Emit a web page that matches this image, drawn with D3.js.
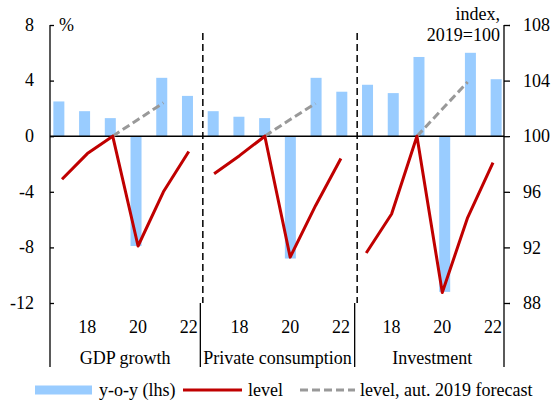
<!DOCTYPE html>
<html>
<head>
<meta charset="utf-8">
<script src="https://cdn.jsdelivr.net/npm/d3@7"></script>
<style>
  html, body { margin: 0; padding: 0; background: #fff; }
  svg { display: block; }
  text { font-family: "Liberation Serif", "Times New Roman", serif; fill: #000; }
</style>
</head>
<body>
<svg id="chart" width="553" height="401"></svg>
<script>
// --- данные ---
const groups = ['GDP growth', 'Private consumption', 'Investment'];
const years = [17, 18, 19, 20, 21, 22];
const yearLabels = ['', '18', '', '20', '', '22'];

// y-o-y, % (левая шкала)
const yoyGDP = [2.5, 1.8, 1.3, -7.9, 4.2, 2.9];
const yoyCons = [1.8, 1.4, 1.3, -8.8, 4.2, 3.2];
const yoyInv = [3.7, 3.1, 5.7, -11.2, 6.0, 4.1];

// уровень, 2019=100 (правая шкала)
const levelGDP = [96.9, 98.75, 100, 92.1, 96.0, 98.9];
const levelCons = [97.3, 98.6, 100, 91.3, 95.0, 98.4];
const levelInv = [91.6, 94.4, 100, 88.75, 94.15, 98.1];

// прогноз осени 2019 (2019–2021)
const fcYears = [19, 20, 21];
const fcGDP = [100, 101.2, 102.4];
const fcCons = [100, 101.2, 102.35];
const fcInv = [100, 101.95, 103.9];

const leftTicks = [-12, -8, -4, 0, 4, 8];
const rightTicks = [88, 92, 96, 100, 104, 108];

const yoy = [yoyGDP, yoyCons, yoyInv];
const level = [levelGDP, levelCons, levelInv];
const fc = [fcGDP, fcCons, fcInv];

const keys = [];
groups.forEach((g, gi) => years.forEach(y => keys.push(gi + '-' + y)));

const svg = d3.select('#chart');
const plotTop = 25, plotBottom = 303, axL = 50, axR = 504;

const y = d3.scaleLinear().domain([-12, 8]).range([plotBottom, plotTop]);
const yR = d3.scaleLinear().domain([88, 108]).range([plotBottom, plotTop]);
// столбцы и линия в Excel сидят на чуть разных осях
const xBar = d3.scaleBand().domain(keys).range([46, 509]);
const xLine = d3.scalePoint().domain(keys).range([62, 493]);

const BLUE = '#99ccff', RED = '#c00000', GREY = '#999999';

// столбцы
const barData = [];
groups.forEach((g, gi) => years.forEach((yr, i) => barData.push({ k: gi + '-' + yr, v: yoy[gi][i] })));
const bw = 11;
svg.append('g').selectAll('rect')
  .data(barData)
  .join('rect')
  .attr('x', d => xBar(d.k) + xBar.bandwidth() / 2 - bw / 2)
  .attr('width', bw)
  .attr('y', d => y(Math.max(0, d.v)))
  .attr('height', d => Math.abs(y(d.v) - y(0)))
  .attr('fill', BLUE);

// разделители панелей
[6, 12].forEach(i => {
  const xs = xBar(keys[i]);
  svg.append('line')
    .attr('x1', xs + 2.5).attr('x2', xs + 2.5)
    .attr('y1', 33).attr('y2', plotBottom)
    .attr('stroke', '#000').attr('stroke-width', 1.5)
    .attr('stroke-dasharray', '7,4');
  svg.append('line')
    .attr('x1', xs).attr('x2', xs)
    .attr('y1', plotBottom).attr('y2', 367)
    .attr('stroke', '#000').attr('stroke-width', 1.3);
});

// ноль
svg.append('line')
  .attr('x1', axL).attr('x2', axR)
  .attr('y1', y(0)).attr('y2', y(0))
  .attr('stroke', '#000').attr('stroke-width', 1.5);

// линии
const line = d3.line().x(d => xLine(d.k)).y(d => yR(d.v));
groups.forEach((g, gi) => {
  const fcPts = fcYears.map((yr, i) => ({ k: gi + '-' + yr, v: fc[gi][i] }));
  svg.append('path')
    .attr('d', line(fcPts))
    .attr('fill', 'none').attr('stroke', GREY)
    .attr('stroke-width', 3).attr('stroke-dasharray', '8,4');
  const pts = years.map((yr, i) => ({ k: gi + '-' + yr, v: level[gi][i] }));
  svg.append('path')
    .attr('d', line(pts))
    .attr('fill', 'none').attr('stroke', RED)
    .attr('stroke-width', 3).attr('stroke-linejoin', 'round');
});

// оси
const gl = svg.append('g').attr('transform', `translate(${axL},0)`)
  .call(d3.axisRight(y).tickValues(leftTicks).tickSize(4).tickFormat(d3.format('d')));
gl.selectAll('text').remove();
const gr = svg.append('g').attr('transform', `translate(${axR},0)`)
  .call(d3.axisRight(yR).tickValues(rightTicks).tickSize(6).tickFormat(d3.format('d')));
gr.selectAll('text').attr('x', 19).attr('dy', '0.32em').style('font-size', '18px')
  .style('font-family', '"Liberation Serif", serif');
[gl, gr].forEach(g => {
  g.select('.domain').remove();
  g.selectAll('.tick line').attr('stroke', '#000').attr('stroke-width', 1.3);
});
svg.append('g').selectAll('text')
  .data(leftTicks)
  .join('text')
  .attr('x', 34).attr('y', d => y(d)).attr('dy', '0.32em')
  .attr('text-anchor', 'end').attr('font-size', 18)
  .text(d => d);
[axL, axR].forEach(x => svg.append('line')
  .attr('x1', x).attr('x2', x).attr('y1', plotTop).attr('y2', 367)
  .attr('stroke', '#000').attr('stroke-width', 1.3));

// подписи единиц
svg.append('text').attr('x', 59).attr('y', 31).attr('font-size', 18).text('%');
svg.append('text').attr('x', 500).attr('y', 20).attr('text-anchor', 'end').attr('font-size', 18).text('index,');
svg.append('text').attr('x', 500).attr('y', 41).attr('text-anchor', 'end').attr('font-size', 18).text('2019=100');

// категории
groups.forEach((g, gi) => {
  years.forEach((yr, i) => {
    if (!yearLabels[i]) return;
    svg.append('text')
      .attr('x', xLine(gi + '-' + yr)).attr('y', 333)
      .attr('text-anchor', 'middle').attr('font-size', 18)
      .text(yearLabels[i]);
  });
  const x0 = gi === 0 ? axL : xBar(keys[gi * 6]);
  const x1 = gi === 2 ? axR : xBar(keys[gi * 6 + 6]);
  svg.append('text')
    .attr('x', (x0 + x1) / 2 + (gi === 2 ? 3 : 0)).attr('y', 364)
    .attr('text-anchor', 'middle').attr('font-size', 18)
    .text(g);
});

// легенда
const ly = 390, lt = 396;
svg.append('rect').attr('x', 35).attr('y', ly - 4.5).attr('width', 57).attr('height', 9).attr('fill', BLUE);
svg.append('text').attr('x', 99).attr('y', lt).attr('font-size', 18).text('y-o-y (lhs)');
svg.append('line').attr('x1', 183).attr('x2', 242).attr('y1', ly).attr('y2', ly)
  .attr('stroke', RED).attr('stroke-width', 3);
svg.append('text').attr('x', 248).attr('y', lt).attr('font-size', 18).text('level');
svg.append('line').attr('x1', 300).attr('x2', 355).attr('y1', ly).attr('y2', ly)
  .attr('stroke', GREY).attr('stroke-width', 3).attr('stroke-dasharray', '8,4');
svg.append('text').attr('x', 360).attr('y', lt).attr('font-size', 18).text('level, aut. 2019 forecast');
</script>
</body>
</html>
